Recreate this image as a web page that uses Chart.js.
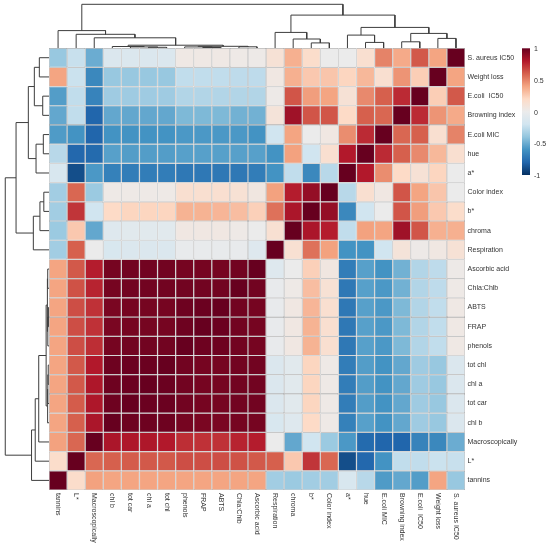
<!DOCTYPE html>
<html>
<head>
<meta charset="utf-8">
<script src="https://cdn.jsdelivr.net/npm/chart.js@4.4.1/dist/chart.umd.min.js"></script>
<style>
  html, body { margin: 0; padding: 0; background: #fff; }
  canvas { display: block; }
</style>
</head>
<body>
<canvas id="heatmap" width="550" height="547"></canvas>
<script>
// variable order as it appears along the columns (left to right) and rows (bottom to top)
const variables = ["tannins", "L*", "Macroscopically", "chl b", "tot car", "chl a", "tot chl",
  "phenols", "FRAP", "ABTS", "Chla:Chlb", "Ascorbic acid", "Respiration", "chroma", "b*",
  "Color index", "a*", "hue", "E.coli MIC", "Browning index", "E.coli  IC50", "Weight loss",
  "S. aureus IC50"];

// lower triangle of the correlation matrix, row i holds r(i, 0..i)
const corrLower = [
  [1],
  [0.18, 1],
  [0.41, 0.58, 1],
  [0.4, 0.6, 0.82, 1],
  [0.4, 0.61, 0.81, 0.98, 1],
  [0.4, 0.62, 0.81, 0.98, 0.99, 1],
  [0.4, 0.62, 0.8, 0.98, 0.99, 0.99, 1],
  [0.4, 0.65, 0.74, 0.96, 0.97, 0.97, 0.97, 1],
  [0.4, 0.65, 0.73, 0.95, 0.96, 0.96, 0.96, 0.98, 1],
  [0.4, 0.65, 0.73, 0.95, 0.96, 0.96, 0.96, 0.98, 0.99, 1],
  [0.4, 0.64, 0.77, 0.96, 0.97, 0.97, 0.97, 0.97, 0.97, 0.97, 1],
  [0.4, 0.62, 0.79, 0.96, 0.97, 0.97, 0.97, 0.96, 0.96, 0.96, 0.97, 1],
  [-0.35, 0.6, 0.0, -0.15, -0.12, -0.12, -0.12, -0.02, -0.02, -0.02, -0.02, -0.1, 1],
  [-0.37, 0.27, -0.52, -0.1, -0.08, -0.08, -0.08, 0.05, 0.05, 0.05, 0.03, 0.0, 0.14, 1],
  [-0.35, 0.72, -0.2, 0.2, 0.22, 0.22, 0.22, 0.35, 0.35, 0.34, 0.31, 0.24, 0.55, 0.82, 1],
  [-0.35, 0.58, -0.37, 0.03, 0.03, 0.03, 0.03, 0.15, 0.15, 0.15, 0.13, 0.06, 0.41, 0.79, 0.88, 1],
  [-0.15, -0.89, -0.58, -0.68, -0.7, -0.7, -0.7, -0.72, -0.72, -0.72, -0.72, -0.7, -0.6, -0.25, -0.65, -0.28, 1],
  [-0.28, -0.79, -0.78, -0.55, -0.56, -0.56, -0.56, -0.55, -0.55, -0.55, -0.55, -0.55, -0.6, 0.41, -0.2, 0.15, 0.8, 1],
  [-0.57, -0.6, -0.8, -0.6, -0.6, -0.6, -0.6, -0.58, -0.58, -0.58, -0.58, -0.6, -0.2, 0.4, 0.0, 0.05, 0.47, 0.75, 1],
  [-0.52, -0.25, -0.8, -0.52, -0.52, -0.52, -0.52, -0.45, -0.45, -0.45, -0.48, -0.48, 0.1, 0.85, 0.63, 0.63, 0.2, 0.6, 0.58, 1],
  [-0.56, -0.25, -0.67, -0.36, -0.36, -0.36, -0.36, -0.3, -0.3, -0.3, -0.3, -0.3, 0.02, 0.63, 0.42, 0.4, 0.12, 0.48, 0.6, 0.75, 1],
  [0.4, -0.22, -0.65, -0.38, -0.38, -0.38, -0.38, -0.25, -0.25, -0.25, -0.26, -0.26, 0.05, 0.36, 0.27, 0.28, 0.22, 0.33, 0.15, 0.45, 0.25, 1],
  [-0.38, -0.23, -0.5, -0.12, -0.12, -0.12, -0.12, 0.04, 0.04, 0.04, 0.03, 0.02, 0.12, 0.36, 0.18, 0.0, 0.0, 0.15, 0.5, 0.38, 0.62, 0.4, 1]
];

// clustering: [childA, childB, height]; negative = leaf (-1 is variables[0]), positive = earlier merge (1-based)
const merges = [
  [-6, -7, 0.8], [-5, 1, 1.2], [-4, 2, 1.6], [-9, -10, 0.6], [-8, 4, 1.2], [-11, -12, 1.3],
  [5, 6, 1.8], [3, 7, 2.9], [-3, 8, 10.3], [-2, 9, 13.8], [-1, 10, 17.5],
  [-15, -16, 5.2], [-14, 12, 9.1], [-13, 13, 15.7], [-18, -19, 5.7], [-17, 15, 13],
  [-20, -21, 6.3], [-22, -23, 9.7], [17, 18, 14.7], [16, 19, 20.7], [14, 20, 33], [11, 21, 43.8]
];

const legendTicks = [1, 0.5, 0, -0.5, -1];
const palette = ["#053061", "#2166ac", "#4393c3", "#92c5de", "#d1e5f0", "#ebebeb",
  "#fddbc7", "#f4a582", "#d6604d", "#b2182b", "#67001f"];

const n = variables.length;
const treeDepthX = 2.42; // left dendrogram width in column units
const treeDepthY = 2.28; // top dendrogram height in row units

function corr(i, j) {
  return i >= j ? corrLower[i][j] : corrLower[j][i];
}

function hexToRgb(h) {
  return [1, 3, 5].map((k) => parseInt(h.substr(k, 2), 16));
}

function colorFor(v) {
  const t = (Math.max(-1, Math.min(1, v)) + 1) / 2 * (palette.length - 1);
  const k = Math.min(palette.length - 2, Math.floor(t));
  const f = t - k;
  const a = hexToRgb(palette[k]);
  const b = hexToRgb(palette[k + 1]);
  const c = a.map((x, m) => Math.round(x + (b[m] - x) * f));
  return `rgb(${c[0]},${c[1]},${c[2]})`;
}

// one floating-bar dataset per row
const cellSets = variables.map((rowName, i) => ({
  type: "bar",
  label: rowName,
  data: variables.map((_, j) => ({ x: j + 0.5, y: [i, i + 1] })),
  backgroundColor: variables.map((_, j) => colorFor(corr(i, j))),
  borderColor: "#a3a3a3",
  borderWidth: 0.6,
  borderSkipped: false,
  inflateAmount: 0,
  grouped: false,
  barPercentage: 1,
  categoryPercentage: 1,
}));

// dendrogram links, drawn once above the columns and once left of the rows
const maxH = Math.max(...merges.map((m) => m[2]));
const nodePos = [];
const treeSets = [];
function node(id) {
  if (id < 0) return { p: -id - 0.5, h: 0 };
  return { p: nodePos[id - 1], h: merges[id - 1][2] };
}
merges.forEach(([a, b, h]) => {
  const A = node(a);
  const B = node(b);
  nodePos.push((A.p + B.p) / 2);
  const lineStyle = { type: "line", borderColor: "#3d3d3d", borderWidth: 1, pointRadius: 0, tension: 0, fill: false };
  const ty = (v) => n + (v / maxH) * treeDepthY;
  const tx = (v) => -(v / maxH) * treeDepthX;
  treeSets.push({ ...lineStyle, data: [
    { x: A.p, y: ty(A.h) }, { x: A.p, y: ty(h) }, { x: B.p, y: ty(h) }, { x: B.p, y: ty(B.h) }] });
  treeSets.push({ ...lineStyle, data: [
    { x: tx(A.h), y: A.p }, { x: tx(h), y: A.p }, { x: tx(h), y: B.p }, { x: tx(B.h), y: B.p }] });
});

const labelPlugin = {
  id: "labels",
  afterDraw(chart) {
    const { ctx, scales } = chart;
    const gridRight = scales.x.getPixelForValue(n);
    const gridBottom = scales.y.getPixelForValue(0);
    ctx.save();
    ctx.fillStyle = "#333";
    ctx.font = '7px "Liberation Sans", Arial, sans-serif';

    // row labels on the right
    ctx.textAlign = "left";
    ctx.textBaseline = "middle";
    variables.forEach((name, i) => {
      ctx.fillText(name, gridRight + 2.5, scales.y.getPixelForValue(i + 0.5));
    });

    // column labels below, reading downwards
    variables.forEach((name, j) => {
      ctx.save();
      ctx.translate(scales.x.getPixelForValue(j + 0.5), gridBottom + 3);
      ctx.rotate(Math.PI / 2);
      ctx.fillText(name, 0, 0);
      ctx.restore();
    });

    // colour key
    const kx = 522, kw = 8, ktop = 48.3, kbot = 175;
    const grad = ctx.createLinearGradient(0, ktop, 0, kbot);
    palette.slice().reverse().forEach((c, k) => grad.addColorStop(k / (palette.length - 1), c));
    ctx.fillStyle = grad;
    ctx.fillRect(kx, ktop, kw, kbot - ktop);
    ctx.fillStyle = "#333";
    legendTicks.forEach((v) => {
      const y = ktop + (1 - v) / 2 * (kbot - ktop);
      ctx.fillText(String(v), kx + kw + 4, y + 1);
    });
    ctx.restore();
  },
};

new Chart(document.getElementById("heatmap"), {
  type: "bar",
  data: { datasets: [...cellSets, ...treeSets] },
  options: {
    responsive: false,
    animation: false,
    layout: { padding: { left: 2, top: 2, right: 85, bottom: 57 } },
    plugins: { legend: { display: false }, tooltip: { enabled: false } },
    scales: {
      x: { type: "linear", display: false, offset: false, min: -2.6, max: n },
      y: { type: "linear", display: false, offset: false, min: 0, max: n + 2.4 },
    },
  },
  plugins: [labelPlugin],
});
</script>
</body>
</html>
